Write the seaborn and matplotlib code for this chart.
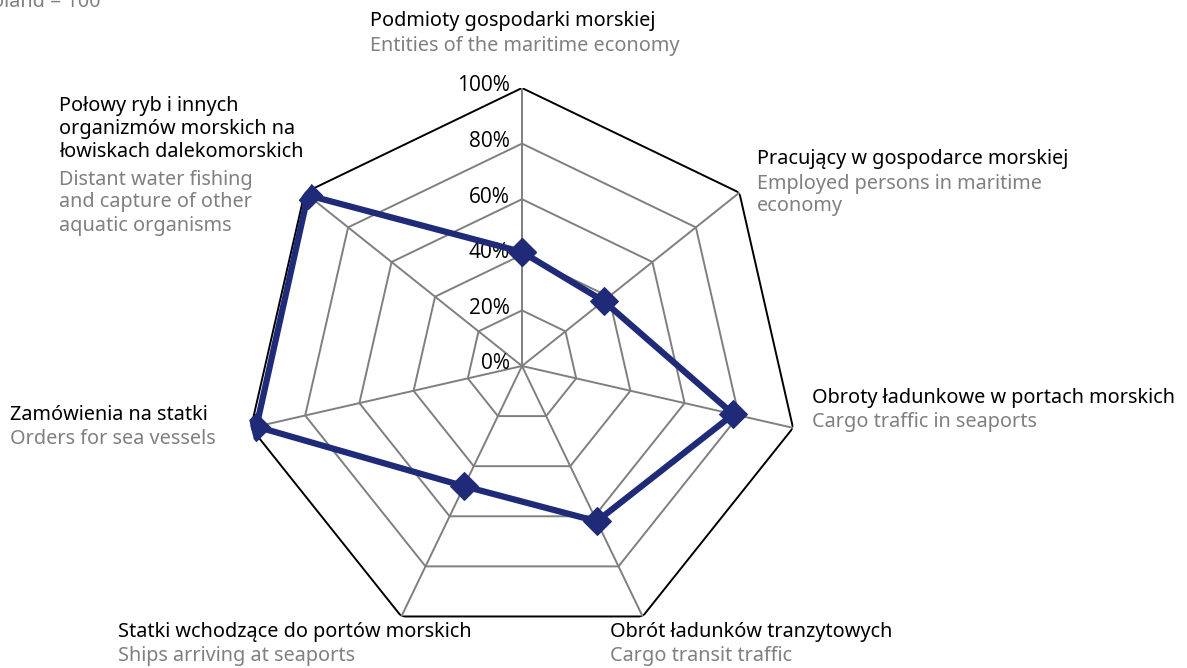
import numpy as np
import pandas as pd
import matplotlib
matplotlib.use("Agg")
import matplotlib.pyplot as plt
import seaborn as sns

# data (Poland = 100, shares in %)
labels_pl = ["Podmioty gospodarki morskiej",
             "Pracujący w gospodarce morskiej",
             "Obroty ładunkowe w portach morskich",
             "Obrót ładunków tranzytowych",
             "Statki wchodzące do portów morskich",
             "Zamówienia na statki",
             "Połowy ryb i innych\norganizmów morskich na\nłowiskach dalekomorskich"]
labels_en = ["Entities of the maritime economy",
             "Employed persons in maritime\neconomy",
             "Cargo traffic in seaports",
             "Cargo transit traffic",
             "Ships arriving at seaports",
             "Orders for sea vessels",
             "Distant water fishing\nand capture of other\naquatic organisms"]
values = [41, 37.5, 78, 62, 48, 98, 98.5]
r_ticks = [0, 20, 40, 60, 80, 100]
r_tick_labels = ["0%", "20%", "40%", "60%", "80%", "100%"]

sns.set_theme(style="white")
plt.rcParams["font.family"] = ["Noto Sans", "DejaVu Sans"]

W, H = 1187, 668
fig = plt.figure(figsize=(W / 100, H / 100), dpi=100)
cx, cy, R = 522, 366, 278
ax = fig.add_axes([(cx - R) / W, (H - cy - R) / H, 2 * R / W, 2 * R / H],
                  projection="polar")
ax.set_theta_offset(np.pi / 2)
ax.set_theta_direction(-1)
ax.set_ylim(0, 100)
ax.grid(False)
ax.spines["polar"].set_visible(False)
ax.set_xticks([])
ax.set_yticks([])
ax.patch.set_alpha(0)

n = len(values)
theta = np.linspace(0, 2 * np.pi, n, endpoint=False)
theta_closed = np.append(theta, 2 * np.pi)

# polygon grid
for r in r_ticks[1:]:
    col = "black" if r == 100 else "#7f7f7f"
    ax.plot(theta_closed, [r] * (n + 1), color=col, lw=1.4, zorder=1)
for t in theta:
    ax.plot([t, t], [0, 100], color="#7f7f7f", lw=1.4, zorder=1)

# radial labels
for r, lab in zip(r_ticks, r_tick_labels):
    ax.annotate(lab, xy=(0, r), xytext=(-9, 1.5), textcoords="offset points",
                ha="right", va="center", fontsize=15, color="black",
                family=["Open Sans", "DejaVu Sans"])

df = pd.DataFrame({"theta": theta_closed, "value": values + [values[0]]})
sns.lineplot(data=df, x="theta", y="value", ax=ax, sort=False, color="#1f2b78",
             lw=4.5, marker="D", markersize=14, markeredgecolor="#1f2b78",
             zorder=3)
ax.set_xlabel("")
ax.set_ylabel("")

# category labels (pixel positions of first line centre)
pos = [(370, 20), (757, 158), (812, 397), (610, 631), (118, 631), (10, 414), (59, 105)]
step = 24.5
for (x, y), pl, en in zip(pos, labels_pl, labels_en):
    npl = pl.count("\n") + 1
    fig.text(x / W, 1 - (y - 9) / H, pl, ha="left", va="top", fontsize=14.3,
             color="black", linespacing=1.2)
    fig.text(x / W, 1 - (y - 9 + npl * step) / H, en, ha="left", va="top",
             fontsize=14.3, color="#808080", linespacing=1.2)

fig.text(100 / W, 1 - 2 / H, "Poland = 100", ha="right", va="center",
         fontsize=14.3, color="#808080")

fig.savefig("out.png", dpi=100)
